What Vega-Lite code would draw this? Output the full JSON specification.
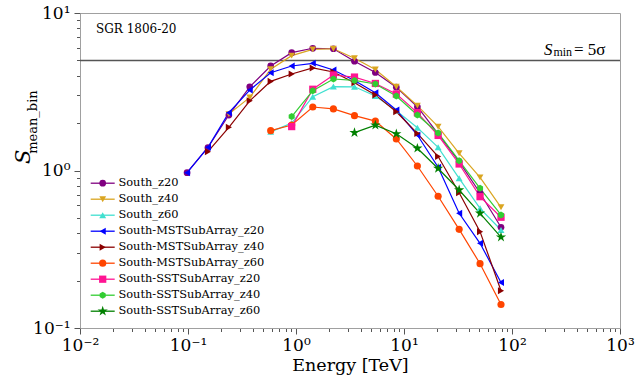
{
  "$schema": "https://vega.github.io/schema/vega-lite/v6.json",
  "width": 540,
  "height": 315,
  "autosize": {"type": "none"},
  "padding": {"left": 80, "top": 13, "right": 17, "bottom": 51},
  "background": "white",
  "config": {
    "view": {"stroke": "#a0a0a0", "strokeWidth": 1},
    "font": "DejaVu Serif",
    "axis": {"domainColor": "#a0a0a0", "domainWidth": 1, "tickColor": "#555", "tickWidth": 1, "labelFont": "DejaVu Serif", "labelFontSize": 17, "labelColor": "#000", "grid": false, "titleFont": "DejaVu Serif", "titleFontWeight": "normal", "titleFontSize": 17.5, "titleColor": "#000", "labelOverlap": false, "labelBound": false, "labelFlush": false},
    "legend": {"labelFont": "DejaVu Serif", "labelFontSize": 11.4, "labelColor": "#000", "symbolSize": 64, "rowPadding": 3.0, "labelOffset": 10, "padding": 0, "orient": "none", "legendX": 17, "legendY": 164.5}
  },
  "resolve": {"scale": {"color": "independent", "shape": "independent", "size": "independent"}, "legend": {"color": "independent"}},
  "datasets": {
    "pts": [
      {"s": "South_z20", "e": 0.098, "v": 0.968}, {"s": "South_z20", "e": 0.153, "v": 1.40}, {"s": "South_z20", "e": 0.239, "v": 2.25}, {"s": "South_z20", "e": 0.373, "v": 3.40}, {"s": "South_z20", "e": 0.583, "v": 4.61}, {"s": "South_z20", "e": 0.912, "v": 5.60}, {"s": "South_z20", "e": 1.43, "v": 5.97}, {"s": "South_z20", "e": 2.22, "v": 5.93}, {"s": "South_z20", "e": 3.48, "v": 4.94}, {"s": "South_z20", "e": 5.43, "v": 4.19}, {"s": "South_z20", "e": 8.49, "v": 3.38}, {"s": "South_z20", "e": 13.3, "v": 2.54}, {"s": "South_z20", "e": 20.7, "v": 1.71}, {"s": "South_z20", "e": 32.4, "v": 1.137}, {"s": "South_z20", "e": 50.6, "v": 0.720}, {"s": "South_z20", "e": 79.1, "v": 0.436},
      {"s": "South_z40", "e": 0.239, "v": 2.28}, {"s": "South_z40", "e": 0.373, "v": 2.91}, {"s": "South_z40", "e": 0.583, "v": 4.39}, {"s": "South_z40", "e": 0.912, "v": 5.36}, {"s": "South_z40", "e": 1.43, "v": 5.88}, {"s": "South_z40", "e": 2.22, "v": 5.93}, {"s": "South_z40", "e": 3.48, "v": 5.16}, {"s": "South_z40", "e": 5.43, "v": 4.38}, {"s": "South_z40", "e": 8.49, "v": 3.40}, {"s": "South_z40", "e": 13.3, "v": 2.58}, {"s": "South_z40", "e": 20.7, "v": 1.90}, {"s": "South_z40", "e": 32.4, "v": 1.286}, {"s": "South_z40", "e": 50.6, "v": 0.905}, {"s": "South_z40", "e": 79.1, "v": 0.584},
      {"s": "South_z60", "e": 0.583, "v": 1.76}, {"s": "South_z60", "e": 0.912, "v": 2.00}, {"s": "South_z60", "e": 1.43, "v": 2.94}, {"s": "South_z60", "e": 2.22, "v": 3.41}, {"s": "South_z60", "e": 3.48, "v": 3.40}, {"s": "South_z60", "e": 5.43, "v": 2.97}, {"s": "South_z60", "e": 8.49, "v": 2.40}, {"s": "South_z60", "e": 13.3, "v": 1.87}, {"s": "South_z60", "e": 20.7, "v": 1.404}, {"s": "South_z60", "e": 32.4, "v": 0.892}, {"s": "South_z60", "e": 50.6, "v": 0.575}, {"s": "South_z60", "e": 79.1, "v": 0.419},
      {"s": "South-MSTSubArray_z20", "e": 0.098, "v": 0.968}, {"s": "South-MSTSubArray_z20", "e": 0.153, "v": 1.404}, {"s": "South-MSTSubArray_z20", "e": 0.239, "v": 2.33}, {"s": "South-MSTSubArray_z20", "e": 0.373, "v": 3.24}, {"s": "South-MSTSubArray_z20", "e": 0.583, "v": 4.18}, {"s": "South-MSTSubArray_z20", "e": 0.912, "v": 4.61}, {"s": "South-MSTSubArray_z20", "e": 1.43, "v": 4.79}, {"s": "South-MSTSubArray_z20", "e": 2.22, "v": 4.35}, {"s": "South-MSTSubArray_z20", "e": 3.48, "v": 3.73}, {"s": "South-MSTSubArray_z20", "e": 5.43, "v": 3.12}, {"s": "South-MSTSubArray_z20", "e": 8.49, "v": 2.42}, {"s": "South-MSTSubArray_z20", "e": 13.3, "v": 1.68}, {"s": "South-MSTSubArray_z20", "e": 20.7, "v": 1.048}, {"s": "South-MSTSubArray_z20", "e": 32.4, "v": 0.535}, {"s": "South-MSTSubArray_z20", "e": 50.6, "v": 0.345}, {"s": "South-MSTSubArray_z20", "e": 79.1, "v": 0.1945},
      {"s": "South-MSTSubArray_z40", "e": 0.153, "v": 1.316}, {"s": "South-MSTSubArray_z40", "e": 0.239, "v": 1.88}, {"s": "South-MSTSubArray_z40", "e": 0.373, "v": 2.77}, {"s": "South-MSTSubArray_z40", "e": 0.583, "v": 3.68}, {"s": "South-MSTSubArray_z40", "e": 0.912, "v": 4.10}, {"s": "South-MSTSubArray_z40", "e": 1.43, "v": 4.48}, {"s": "South-MSTSubArray_z40", "e": 2.22, "v": 4.22}, {"s": "South-MSTSubArray_z40", "e": 3.48, "v": 3.61}, {"s": "South-MSTSubArray_z40", "e": 5.43, "v": 3.02}, {"s": "South-MSTSubArray_z40", "e": 8.49, "v": 2.36}, {"s": "South-MSTSubArray_z40", "e": 13.3, "v": 1.72}, {"s": "South-MSTSubArray_z40", "e": 20.7, "v": 1.227}, {"s": "South-MSTSubArray_z40", "e": 32.4, "v": 0.723}, {"s": "South-MSTSubArray_z40", "e": 50.6, "v": 0.409}, {"s": "South-MSTSubArray_z40", "e": 79.1, "v": 0.1725},
      {"s": "South-MSTSubArray_z60", "e": 0.583, "v": 1.79}, {"s": "South-MSTSubArray_z60", "e": 0.912, "v": 1.945}, {"s": "South-MSTSubArray_z60", "e": 1.43, "v": 2.53}, {"s": "South-MSTSubArray_z60", "e": 2.22, "v": 2.46}, {"s": "South-MSTSubArray_z60", "e": 3.48, "v": 2.23}, {"s": "South-MSTSubArray_z60", "e": 5.43, "v": 2.06}, {"s": "South-MSTSubArray_z60", "e": 8.49, "v": 1.585}, {"s": "South-MSTSubArray_z60", "e": 13.3, "v": 1.068}, {"s": "South-MSTSubArray_z60", "e": 20.7, "v": 0.686}, {"s": "South-MSTSubArray_z60", "e": 32.4, "v": 0.423}, {"s": "South-MSTSubArray_z60", "e": 50.6, "v": 0.256}, {"s": "South-MSTSubArray_z60", "e": 79.1, "v": 0.141},
      {"s": "South-SSTSubArray_z20", "e": 0.912, "v": 1.90}, {"s": "South-SSTSubArray_z20", "e": 1.43, "v": 3.28}, {"s": "South-SSTSubArray_z20", "e": 2.22, "v": 4.04}, {"s": "South-SSTSubArray_z20", "e": 3.48, "v": 3.92}, {"s": "South-SSTSubArray_z20", "e": 5.43, "v": 3.57}, {"s": "South-SSTSubArray_z20", "e": 8.49, "v": 3.06}, {"s": "South-SSTSubArray_z20", "e": 13.3, "v": 2.33}, {"s": "South-SSTSubArray_z20", "e": 20.7, "v": 1.67}, {"s": "South-SSTSubArray_z20", "e": 32.4, "v": 1.10}, {"s": "South-SSTSubArray_z20", "e": 50.6, "v": 0.682}, {"s": "South-SSTSubArray_z20", "e": 79.1, "v": 0.505},
      {"s": "South-SSTSubArray_z40", "e": 0.912, "v": 2.20}, {"s": "South-SSTSubArray_z40", "e": 1.43, "v": 3.21}, {"s": "South-SSTSubArray_z40", "e": 2.22, "v": 3.81}, {"s": "South-SSTSubArray_z40", "e": 3.48, "v": 3.73}, {"s": "South-SSTSubArray_z40", "e": 5.43, "v": 3.54}, {"s": "South-SSTSubArray_z40", "e": 8.49, "v": 2.97}, {"s": "South-SSTSubArray_z40", "e": 13.3, "v": 2.25}, {"s": "South-SSTSubArray_z40", "e": 20.7, "v": 1.73}, {"s": "South-SSTSubArray_z40", "e": 32.4, "v": 1.154}, {"s": "South-SSTSubArray_z40", "e": 50.6, "v": 0.771}, {"s": "South-SSTSubArray_z40", "e": 79.1, "v": 0.522},
      {"s": "South-SSTSubArray_z60", "e": 3.48, "v": 1.74}, {"s": "South-SSTSubArray_z60", "e": 5.43, "v": 1.94}, {"s": "South-SSTSubArray_z60", "e": 8.49, "v": 1.71}, {"s": "South-SSTSubArray_z60", "e": 13.3, "v": 1.384}, {"s": "South-SSTSubArray_z60", "e": 20.7, "v": 1.03}, {"s": "South-SSTSubArray_z60", "e": 32.4, "v": 0.752}, {"s": "South-SSTSubArray_z60", "e": 50.6, "v": 0.535}, {"s": "South-SSTSubArray_z60", "e": 79.1, "v": 0.378}
    ]
  },
  "layer": [
    {
      "data": {"values": [{}]},
      "mark": {"type": "rule", "color": "#555555", "strokeWidth": 1.5},
      "encoding": {"y": {"datum": 5, "type": "quantitative", "scale": {"type": "log", "domain": [0.1, 10]}}}
    },
    {
      "data": {"name": "pts"},
      "mark": {"type": "line", "strokeWidth": 1.2},
      "encoding": {
        "x": {"field": "e", "type": "quantitative", "scale": {"type": "log", "domain": [0.01, 1000]},
          "axis": {"title": "Energy [TeV]", "values": [0.01,0.02,0.03,0.04,0.05,0.06,0.07,0.08,0.09,0.1,0.2,0.3,0.4,0.5,0.6,0.7,0.8,0.9,1,2,3,4,5,6,7,8,9,10,20,30,40,50,60,70,80,90,100,200,300,400,500,600,700,800,900,1000],
            "labelExpr": "datum.value==0.01?'10⁻²':datum.value==0.1?'10⁻¹':datum.value==1?'10⁰':datum.value==10?'10¹':datum.value==100?'10²':datum.value==1000?'10³':''",
            "tickSize": {"condition": {"test": "datum.value==0.01||datum.value==0.1||datum.value==1||datum.value==10||datum.value==100||datum.value==1000", "value": 6}, "value": 3.5},
            "labelPadding": 3, "titlePadding": 3}},
        "y": {"field": "v", "type": "quantitative", "scale": {"type": "log", "domain": [0.1, 10]},
          "axis": {"title": null, "values": [0.1,0.2,0.3,0.4,0.5,0.6,0.7,0.8,0.9,1,2,3,4,5,6,7,8,9,10],
            "labelExpr": "datum.value==0.1?'10⁻¹':datum.value==1?'10⁰':datum.value==10?'10¹':''",
            "tickSize": {"condition": {"test": "datum.value==0.1||datum.value==1||datum.value==10", "value": 6}, "value": 3.5},
            "labelPadding": 4}},
        "color": {"field": "s", "type": "nominal",
          "scale": {"domain": ["South_z20","South_z40","South_z60","South-MSTSubArray_z20","South-MSTSubArray_z40","South-MSTSubArray_z60","South-SSTSubArray_z20","South-SSTSubArray_z40","South-SSTSubArray_z60"],
                    "range": ["#800080","#DAA520","#40E0D0","#0000FF","#8B0000","#FF4500","#FF1493","#32CD32","#008000"]},
          "legend": {"title": null, "symbolType": "M-3,0L3,0", "symbolStrokeWidth": 1.3, "labelOpacity": 0}
        }
      }
    },
    {
      "data": {"name": "pts"},
      "mark": {"type": "point", "filled": true, "opacity": 1},
      "encoding": {
        "x": {"field": "e", "type": "quantitative", "scale": {"type": "log", "domain": [0.01, 1000]}},
        "y": {"field": "v", "type": "quantitative", "scale": {"type": "log", "domain": [0.1, 10]}},
        "color": {"field": "s", "type": "nominal",
          "scale": {"domain": ["South_z20","South_z40","South_z60","South-MSTSubArray_z20","South-MSTSubArray_z40","South-MSTSubArray_z60","South-SSTSubArray_z20","South-SSTSubArray_z40","South-SSTSubArray_z60"],
                    "range": ["#800080","#DAA520","#40E0D0","#0000FF","#8B0000","#FF4500","#FF1493","#32CD32","#008000"]},
          "legend": {"title": null}},
        "shape": {"field": "s", "type": "nominal", "legend": null,
          "scale": {"domain": ["South_z20","South_z40","South_z60","South-MSTSubArray_z20","South-MSTSubArray_z40","South-MSTSubArray_z60","South-SSTSubArray_z20","South-SSTSubArray_z40","South-SSTSubArray_z60"],
                    "range": ["circle","triangle-down","triangle-up","triangle-left","triangle-right","circle","square","M0,-0.95L0.823,-0.475L0.823,0.475L0,0.95L-0.823,0.475L-0.823,-0.475Z","M0,-1.45L0.326,-0.449L1.379,-0.448L0.527,0.171L0.852,1.173L0,0.555L-0.852,1.173L-0.527,0.171L-1.379,-0.448L-0.326,-0.449Z"]}},
        "size": {"field": "s", "type": "nominal", "legend": null,
          "scale": {"domain": ["South_z20","South_z40","South_z60","South-MSTSubArray_z20","South-MSTSubArray_z40","South-MSTSubArray_z60","South-SSTSubArray_z20","South-SSTSubArray_z40","South-SSTSubArray_z60"],
                    "range": [45, 55, 50, 50, 50, 60, 60, 50, 50]}}
      }
    },
    {
      "data": {"values": [{}]},
      "mark": {"type": "text", "text": "SGR 1806-20", "align": "left", "baseline": "middle", "font": "DejaVu Serif", "fontSize": 12, "color": "#000"},
      "encoding": {"x": {"datum": 0.01406, "type": "quantitative", "scale": {"type": "log"}}, "y": {"datum": 7.91, "type": "quantitative", "scale": {"type": "log"}}}
    },
    {
      "data": {"values": [{}]},
      "mark": {"type": "text", "text": "S", "align": "left", "baseline": "alphabetic", "font": "Liberation Serif", "fontStyle": "italic", "fontSize": 17, "color": "#000"},
      "encoding": {"x": {"datum": 197.8, "type": "quantitative", "scale": {"type": "log"}}, "y": {"datum": 5.41, "type": "quantitative", "scale": {"type": "log"}}}
    },
    {
      "data": {"values": [{}]},
      "mark": {"type": "text", "text": "min", "align": "left", "baseline": "alphabetic", "font": "Liberation Serif", "fontSize": 12, "color": "#000"},
      "encoding": {"x": {"datum": 242, "type": "quantitative", "scale": {"type": "log"}}, "y": {"datum": 5.33, "type": "quantitative", "scale": {"type": "log"}}}
    },
    {
      "data": {"values": [{}]},
      "mark": {"type": "text", "text": "= 5σ", "align": "left", "baseline": "alphabetic", "font": "Liberation Serif", "fontSize": 17, "color": "#000"},
      "encoding": {"x": {"datum": 375, "type": "quantitative", "scale": {"type": "log"}}, "y": {"datum": 5.41, "type": "quantitative", "scale": {"type": "log"}}}
    },
    {
      "data": {"values": [{}]},
      "mark": {"type": "text", "text": "S", "angle": 270, "align": "center", "baseline": "middle", "font": "DejaVu Serif", "fontStyle": "italic", "fontSize": 21, "color": "#000"},
      "encoding": {"x": {"datum": 0.00303, "type": "quantitative", "scale": {"type": "log"}}, "y": {"datum": 1.22, "type": "quantitative", "scale": {"type": "log"}}}
    },
    {
      "data": {"values": [{}]},
      "mark": {"type": "text", "text": "mean_bin", "angle": 270, "align": "center", "baseline": "middle", "font": "DejaVu Serif", "fontSize": 13, "color": "#000"},
      "encoding": {"x": {"datum": 0.00367, "type": "quantitative", "scale": {"type": "log"}}, "y": {"datum": 2.03, "type": "quantitative", "scale": {"type": "log"}}}
    }
  ]
}
